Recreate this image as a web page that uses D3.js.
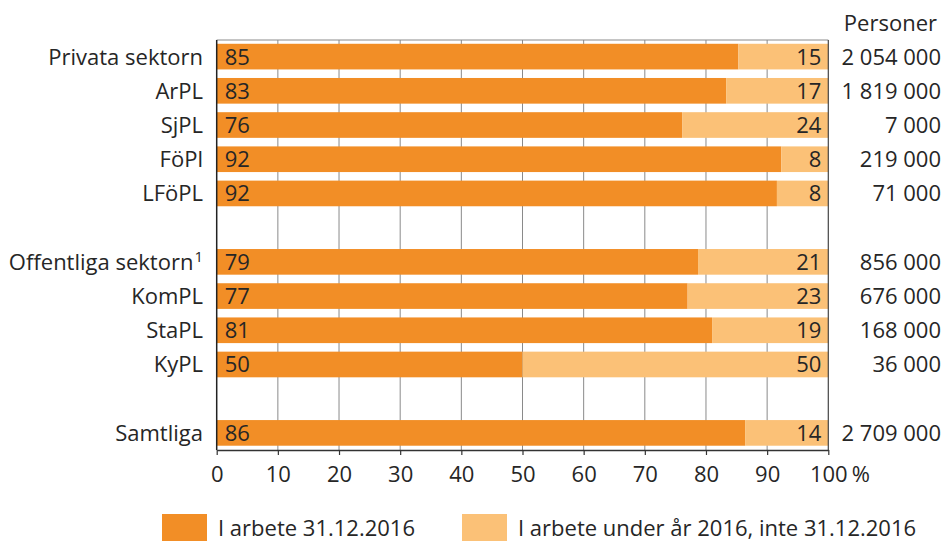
<!DOCTYPE html>
<html>
<head>
<meta charset="utf-8">
<script src="https://cdn.jsdelivr.net/npm/d3@7"></script>
<style>
  body { margin: 0; background: #fff; }
  text { font-family: "Open Sans", "Noto Sans", sans-serif; fill: #262626; }
</style>
</head>
<body>
<div id="chart"></div>
<script>
// kategorier och värden
var categories = ["Privata sektorn", "ArPL", "SjPL", "FöPl", "LFöPL",
                  "Offentliga sektorn", "KomPL", "StaPL", "KyPL", "Samtliga"];
var inWork = [85.3, 83.3, 76.1, 92.3, 91.6, 78.7, 77.0, 81.0, 50.0, 86.4];
var inWorkLabel = [85, 83, 76, 92, 92, 79, 77, 81, 50, 86];
var notLabel = [15, 17, 24, 8, 8, 21, 23, 19, 50, 14];
var persons = [2054000, 1819000, 7000, 219000, 71000, 856000, 676000, 168000, 36000, 2709000];
var tickValues = [0, 10, 20, 30, 40, 50, 60, 70, 80, 90, 100];
var legendLabels = ["I arbete 31.12.2016", "I arbete under år 2016, inte 31.12.2016"];
// rader med tomma mellanrum
var slots = ["Privata sektorn", "ArPL", "SjPL", "FöPl", "LFöPL", "gap1",
             "Offentliga sektorn", "KomPL", "StaPL", "KyPL", "gap2", "Samtliga"];

var colors = ["#f28e26", "#fbc177"];
var width = 946, height = 541;
var fs = "22px";

var svg = d3.select("#chart")
  .append("svg")
    .attr("width", width)
    .attr("height", height);

var x = d3.scaleLinear()
  .domain([0, 100])
  .range([216.7, 828.3]);

var y = d3.scaleBand()
  .domain(slots)
  .range([39.5, 450])
  .paddingInner(0.25)
  .paddingOuter(0.125);

var fmt = d3.formatLocale({decimal: ",", thousands: "\u00a0", grouping: [3]}).format(",d");

var data = categories.map(function(c, i) {
  return {name: c, v: inWork[i], l1: inWorkLabel[i], l2: notLabel[i], p: persons[i]};
});

// rutnät
svg.append("g")
  .selectAll("line")
  .data(tickValues.slice(1, -1))
  .enter()
  .append("line")
    .attr("x1", function(d) { return x(d); })
    .attr("x2", function(d) { return x(d); })
    .attr("y1", 40)
    .attr("y2", 450)
    .attr("stroke", "#8a8a8a")
    .attr("stroke-width", 1);

svg.append("line")
  .attr("x1", x(0)).attr("x2", x(100))
  .attr("y1", 40).attr("y2", 40)
  .attr("stroke", "#8a8a8a");

// staplar
var rows = svg.append("g")
  .selectAll("g")
  .data(data)
  .enter()
  .append("g")
    .attr("transform", function(d) { return "translate(0," + y(d.name) + ")"; });

rows.append("rect")
  .attr("x", x(0))
  .attr("width", function(d) { return x(d.v) - x(0); })
  .attr("height", y.bandwidth())
  .attr("fill", colors[0]);

rows.append("rect")
  .attr("x", function(d) { return x(d.v); })
  .attr("width", function(d) { return x(100) - x(d.v); })
  .attr("height", y.bandwidth())
  .attr("fill", colors[1]);

var mid = y.bandwidth() / 2;

rows.append("text")
  .attr("x", x(0) + 8)
  .attr("y", mid)
  .attr("dy", "0.36em")
  .style("font-size", fs)
  .text(function(d) { return d.l1; });

rows.append("text")
  .attr("x", x(100) - 7)
  .attr("y", mid)
  .attr("dy", "0.36em")
  .attr("text-anchor", "end")
  .style("font-size", fs)
  .text(function(d) { return d.l2; });

// kategorinamn
var names = rows.append("text")
  .attr("x", 203)
  .attr("y", mid)
  .attr("dy", "0.36em")
  .attr("text-anchor", "end")
  .style("font-size", fs);
names.append("tspan").text(function(d) { return d.name; });
names.filter(function(d) { return d.name == "Offentliga sektorn"; })
  .append("tspan")
    .attr("dy", "-0.5em")
    .attr("dx", "1")
    .style("font-size", "15px")
    .text("1");

// personer
rows.append("text")
  .attr("x", 941)
  .attr("y", mid)
  .attr("dy", "0.36em")
  .attr("text-anchor", "end")
  .style("font-size", fs)
  .text(function(d) { return fmt(d.p); });

svg.append("text")
  .attr("x", 937)
  .attr("y", 31)
  .attr("text-anchor", "end")
  .style("font-size", fs)
  .text("Personer");

// ramar
svg.append("line")
  .attr("x1", x(0)).attr("x2", x(0))
  .attr("y1", 40).attr("y2", 450)
  .attr("stroke", "#222").attr("stroke-width", 1.5);
svg.append("line")
  .attr("x1", x(100)).attr("x2", x(100))
  .attr("y1", 40).attr("y2", 450)
  .attr("stroke", "#444").attr("stroke-width", 1.2);

// x-axel
var xAxis = svg.append("g")
  .attr("transform", "translate(0,450)")
  .call(d3.axisBottom(x).tickValues(tickValues).tickSize(5).tickSizeOuter(0).tickPadding(11));
xAxis.select(".domain").attr("stroke", "#333").attr("stroke-width", 1.5);
xAxis.selectAll(".tick line").attr("stroke", "#333").attr("stroke-width", 1.2);
xAxis.selectAll(".tick text")
  .style("font-size", fs)
  .style("font-family", "'Open Sans', sans-serif")
  .attr("fill", "#262626");
xAxis.selectAll(".tick")
  .filter(function(d) { return d == 100; })
  .append("text")
    .attr("x", 23)
    .attr("y", 16)
    .attr("dy", "0.71em")
    .attr("text-anchor", "start")
    .attr("fill", "#262626")
    .style("font-size", fs)
    .style("font-family", "'Open Sans', sans-serif")
    .text("%");

// legend
var legendX = [162, 462];
var legend = svg.append("g")
  .selectAll("g")
  .data(legendLabels)
  .enter()
  .append("g")
    .attr("transform", function(d, i) { return "translate(" + legendX[i] + ",514)"; });
legend.append("rect")
  .attr("width", 45)
  .attr("height", 30)
  .attr("fill", function(d, i) { return colors[i]; });
legend.append("text")
  .attr("x", 56)
  .attr("y", 22)
  .style("font-size", fs)
  .text(function(d) { return d; });
</script>
</body>
</html>
